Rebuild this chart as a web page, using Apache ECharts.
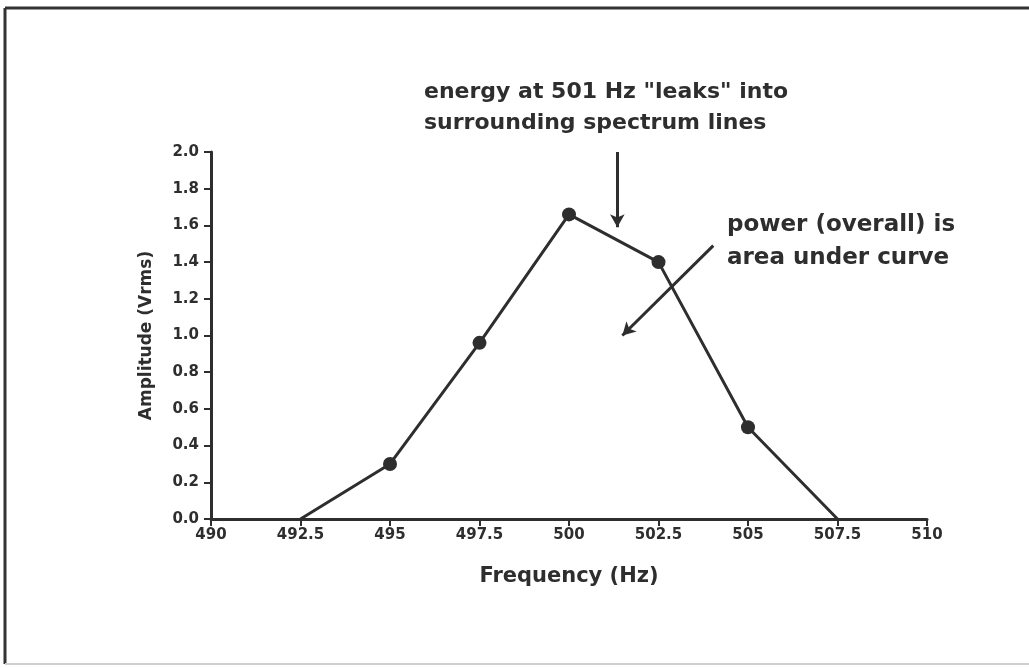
<!DOCTYPE html>
<html>
<head>
<meta charset="utf-8">
<script src="https://cdn.jsdelivr.net/npm/echarts@6/dist/echarts.min.js"></script>
<style>
  html, body { margin: 0; padding: 0; background: #fff; }
  #chart { width: 1029px; height: 668px; }
</style>
</head>
<body>
<div id="chart"></div>
<script>
// spectrum lines around 501 Hz
const freqs = [492.5, 495, 497.5, 500, 502.5, 505, 507.5];
const amps = [0, 0.3, 0.96, 1.66, 1.40, 0.5, 0];

// arrows, in data coordinates [from, to]
const leakArrow = [[501.35, 2.0], [501.35, 1.59]];
const areaArrow = [[504.03, 1.49], [501.49, 1.0]];

const noteLeak = 'energy at 501 Hz "leaks" into\nsurrounding spectrum lines';
const noteArea = 'power (overall) is\narea under curve';

const ink = '#2e2e2e';
const fontFamily = '"DejaVu Sans", sans-serif';

function pairs(xs, ys) {
  return xs.map((x, i) => [x, ys[i]]);
}

const option = {
  animation: false,
  backgroundColor: '#fff',
  grid: { left: 211, right: 102, top: 152, bottom: 149 },
  xAxis: {
    type: 'value',
    min: 490,
    max: 510,
    interval: 2.5,
    name: 'Frequency (Hz)',
    nameLocation: 'middle',
    nameGap: 47,
    nameTextStyle: { color: ink, fontFamily, fontWeight: 'bold', fontSize: 21 },
    axisLine: { lineStyle: { color: ink, width: 3 } },
    axisTick: { length: 7, lineStyle: { color: ink, width: 2 } },
    axisLabel: { color: ink, fontFamily, fontWeight: 'bold', fontSize: 15, margin: 9 },
    splitLine: { show: false },
  },
  yAxis: {
    type: 'value',
    min: 0,
    max: 2.0,
    interval: 0.2,
    name: 'Amplitude (Vrms)',
    nameLocation: 'middle',
    nameGap: 56,
    nameTextStyle: { color: ink, fontFamily, fontWeight: 'bold', fontSize: 17 },
    axisLine: { show: true, lineStyle: { color: ink, width: 3 } },
    axisTick: { show: true, length: 7, lineStyle: { color: ink, width: 2 } },
    axisLabel: {
      color: ink, fontFamily, fontWeight: 'bold', fontSize: 15, margin: 12,
      formatter: (v) => v.toFixed(1),
    },
    splitLine: { show: false },
  },
  series: [
    {
      type: 'line',
      data: pairs(freqs, amps),
      symbol: 'circle',
      symbolSize: (val) => (val[1] === 0 ? 0 : 14),
      itemStyle: { color: ink },
      lineStyle: { color: ink, width: 3 },
      emphasis: { disabled: true },
      markLine: {
        silent: true,
        symbol: ['none', 'arrow'],
        symbolSize: [11, 13],
        label: { show: false },
        lineStyle: { color: ink, width: 3, type: 'solid' },
        emphasis: { disabled: true },
        data: [
          [{ coord: leakArrow[0] }, { coord: leakArrow[1] }],
          [{ coord: areaArrow[0] }, { coord: areaArrow[1] }],
        ],
      },
    },
  ],
  graphic: [
    // picture frame
    { type: 'line', silent: true, shape: { x1: 5, y1: 8, x2: 1029, y2: 8 }, style: { stroke: '#333', lineWidth: 3 } },
    { type: 'line', silent: true, shape: { x1: 5, y1: 8, x2: 5, y2: 664 }, style: { stroke: '#333', lineWidth: 3 } },
    { type: 'line', silent: true, shape: { x1: 5, y1: 664, x2: 1029, y2: 664 }, style: { stroke: '#cfcfcf', lineWidth: 2 } },
    // notes
    {
      type: 'text', silent: true, left: 424, top: 77,
      style: { text: noteLeak, fill: ink, fontFamily, fontWeight: 'bold', fontSize: 22, lineHeight: 31 },
    },
    {
      type: 'text', silent: true, left: 727, top: 209,
      style: { text: noteArea, fill: ink, fontFamily, fontWeight: 'bold', fontSize: 23, lineHeight: 33 },
    },
  ],
};

const myChart = echarts.init(document.getElementById('chart'));
myChart.setOption(option);
</script>
</body>
</html>
